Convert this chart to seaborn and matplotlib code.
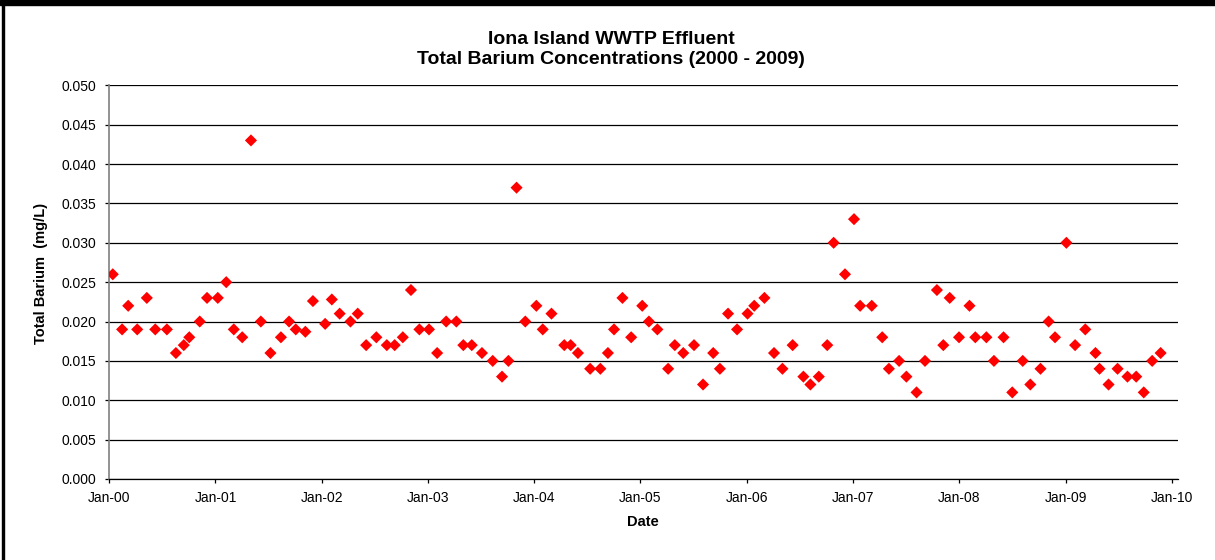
import pandas as pd
import matplotlib
matplotlib.use("Agg")
import matplotlib.pyplot as plt
import matplotlib.dates as mdates
from matplotlib.patches import Rectangle
import seaborn as sns

# sample dates and total barium values (mg/L)
dates = [
    "2000-01-14", "2000-02-15", "2000-03-07", "2000-04-07", "2000-05-10", "2000-06-08",
    "2000-07-18", "2000-08-18", "2000-09-14", "2000-10-03", "2000-11-08", "2000-12-03",
    "2001-01-09", "2001-02-07", "2001-03-05", "2001-04-03", "2001-05-03", "2001-06-06",
    "2001-07-09", "2001-08-14", "2001-09-11", "2001-10-04", "2001-11-06", "2001-12-02",
    "2002-01-13", "2002-02-05", "2002-03-04", "2002-04-10", "2002-05-05", "2002-06-03",
    "2002-07-08", "2002-08-13", "2002-09-09", "2002-10-07", "2002-11-04", "2002-12-03",
    "2003-01-05", "2003-02-02", "2003-03-05", "2003-04-09", "2003-05-03", "2003-06-01",
    "2003-07-06", "2003-08-12", "2003-09-13", "2003-10-05", "2003-11-02", "2003-12-02",
    "2004-01-09", "2004-01-31", "2004-03-01", "2004-04-14", "2004-05-06", "2004-05-31",
    "2004-07-12", "2004-08-16", "2004-09-11", "2004-10-02", "2004-10-31", "2004-11-30",
    "2005-01-07", "2005-01-30", "2005-02-28", "2005-04-06", "2005-04-29", "2005-05-28",
    "2005-07-04", "2005-08-04", "2005-09-08", "2005-10-01", "2005-10-29", "2005-11-29",
    "2006-01-04", "2006-01-27", "2006-03-03", "2006-04-05", "2006-05-04", "2006-06-08",
    "2006-07-15", "2006-08-08", "2006-09-06", "2006-10-05", "2006-10-27", "2006-12-05",
    "2007-01-05", "2007-01-26", "2007-03-07", "2007-04-12", "2007-05-05", "2007-06-09",
    "2007-07-04", "2007-08-08", "2007-09-06", "2007-10-17", "2007-11-08", "2007-11-30",
    "2008-01-01", "2008-02-06", "2008-02-26", "2008-04-04", "2008-04-30", "2008-06-02",
    "2008-07-02", "2008-08-07", "2008-09-02", "2008-10-07", "2008-11-04", "2008-11-26",
    "2009-01-04", "2009-02-03", "2009-03-10", "2009-04-14", "2009-04-28", "2009-05-29",
    "2009-06-29", "2009-08-02", "2009-09-01", "2009-09-27", "2009-10-26", "2009-11-24",
]
barium = [
    0.026, 0.019, 0.022, 0.019, 0.023, 0.019,
    0.019, 0.016, 0.017, 0.018, 0.020, 0.023,
    0.023, 0.025, 0.019, 0.018, 0.043, 0.020,
    0.016, 0.018, 0.020, 0.019, 0.0187, 0.0226,
    0.0197, 0.0228, 0.021, 0.020, 0.021, 0.017,
    0.018, 0.017, 0.017, 0.018, 0.024, 0.019,
    0.019, 0.016, 0.020, 0.020, 0.017, 0.017,
    0.016, 0.015, 0.013, 0.015, 0.037, 0.020,
    0.022, 0.019, 0.021, 0.017, 0.017, 0.016,
    0.014, 0.014, 0.016, 0.019, 0.023, 0.018,
    0.022, 0.020, 0.019, 0.014, 0.017, 0.016,
    0.017, 0.012, 0.016, 0.014, 0.021, 0.019,
    0.021, 0.022, 0.023, 0.016, 0.014, 0.017,
    0.013, 0.012, 0.013, 0.017, 0.030, 0.026,
    0.033, 0.022, 0.022, 0.018, 0.014, 0.015,
    0.013, 0.011, 0.015, 0.024, 0.017, 0.023,
    0.018, 0.022, 0.018, 0.018, 0.015, 0.018,
    0.011, 0.015, 0.012, 0.014, 0.020, 0.018,
    0.030, 0.017, 0.019, 0.016, 0.014, 0.012,
    0.014, 0.013, 0.013, 0.011, 0.015, 0.016,
]
year_ticks = [str(y) + "-01-01" for y in range(2000, 2011)]
y_ticks = [0.000, 0.005, 0.010, 0.015, 0.020, 0.025, 0.030, 0.035, 0.040, 0.045, 0.050]

df = pd.DataFrame({"date": pd.to_datetime(dates), "barium": barium})

sns.set_style("white")
plt.rcParams["font.family"] = ["Liberation Sans", "DejaVu Sans"]
plt.rcParams["text.color"] = "black"
plt.rcParams["xtick.color"] = "black"
plt.rcParams["ytick.color"] = "black"

fig = plt.figure(figsize=(12.15, 5.6), dpi=100)
ax = fig.add_axes([109 / 1215, 81 / 560, 1068.5 / 1215, 393.7 / 560])

sns.scatterplot(data=df, x="date", y="barium", ax=ax, marker="D", s=38,
                color="#FF0000", edgecolor="none", linewidth=0, zorder=3)

ax.set_ylim(0, 0.05)
ax.set_yticks(y_ticks)
ax.yaxis.set_major_formatter(matplotlib.ticker.FormatStrFormatter("%.3f"))
ax.set_xlim(pd.Timestamp("2000-01-01"), pd.Timestamp("2010-01-21"))
ax.set_xticks(pd.to_datetime(year_ticks))
ax.xaxis.set_major_formatter(mdates.DateFormatter("%b-%y"))

ax.grid(axis="y", color="black", linewidth=0.9)
ax.set_axisbelow(True)
for s in ["top", "right"]:
    ax.spines[s].set_visible(False)
ax.spines["left"].set_color("#808080")
ax.spines["left"].set_linewidth(1.2)
ax.spines["bottom"].set_color("black")
ax.spines["bottom"].set_linewidth(0.9)
ax.tick_params(axis="both", direction="out", length=3, width=0.9, color="black",
               labelsize=10, left=True, bottom=True)
ax.tick_params(axis="x", pad=6)
ax.tick_params(axis="y", pad=6)

ax.set_xlabel("")
ax.set_ylabel("")
fig.text(643 / 1215, 1 - 522 / 560, "Date", ha="center", va="center",
         fontsize=10.5, fontweight="bold")
fig.text(41 / 1215, 1 - 273 / 560, "Total Barium  (mg/L)", ha="center", va="center",
         rotation=90, fontsize=10.5, fontweight="bold")
fig.text(611 / 1215, 1 - 39 / 560, "Iona Island WWTP Effluent",
         ha="center", va="center", fontsize=14, fontweight="bold")
fig.text(611 / 1215, 1 - 60 / 560, "Total Barium Concentrations (2000 - 2009)",
         ha="center", va="center", fontsize=14, fontweight="bold")

# frame pieces of the original chart
fig.add_artist(Rectangle((0, 1 - 5 / 560), 1, 5 / 560, transform=fig.transFigure,
                         color="black", zorder=10))
fig.add_artist(Rectangle((2 / 1215, 0), 2 / 1215, 1, transform=fig.transFigure,
                         color="black", zorder=10))

fig.savefig("out.png", dpi=100)
